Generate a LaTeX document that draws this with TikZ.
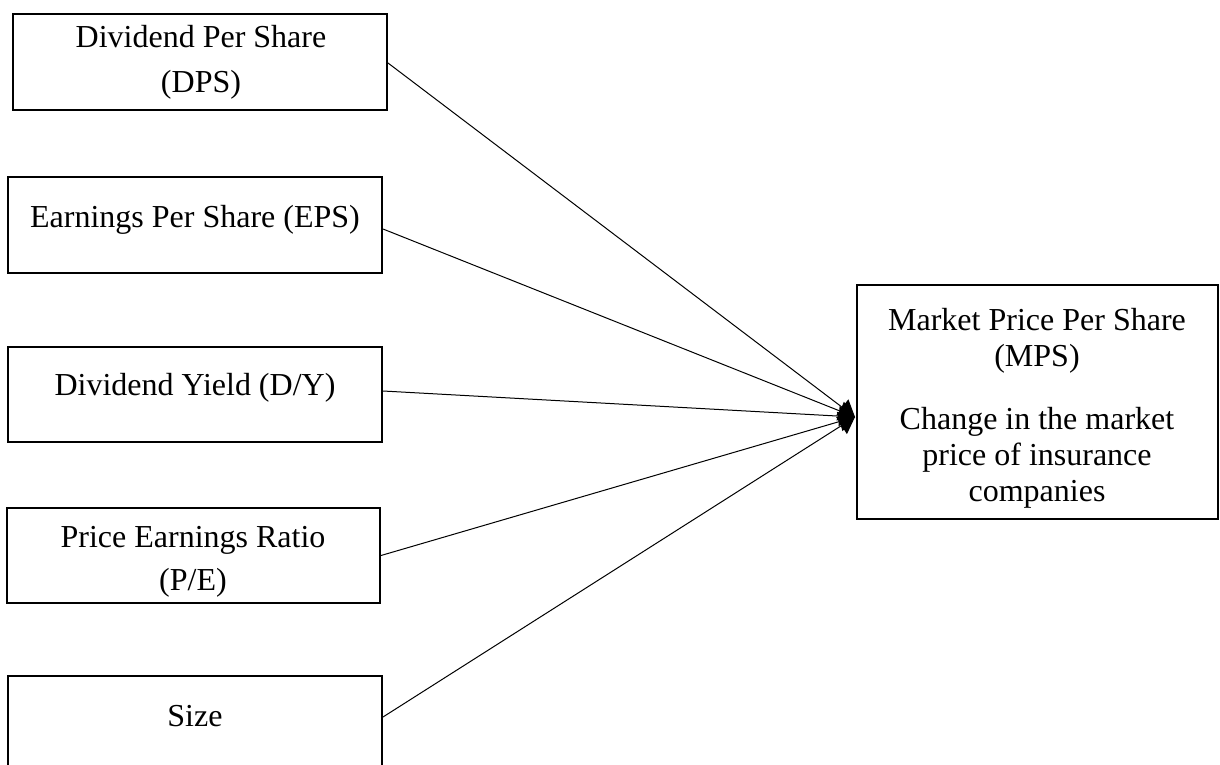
\documentclass[tikz,border=0pt]{standalone}
\usepackage{fontspec}
\setmainfont{Liberation Serif}
\usetikzlibrary{arrows.meta}
\begin{document}
\begin{tikzpicture}[x=0.5pt,y=-0.5pt,
  box/.style={draw, line width=1pt, rectangle, inner sep=0pt, anchor=center},
  lbl/.style={align=center, inner sep=0pt, font=\fontsize{16pt}{18pt}\selectfont},
  link/.style={line width=0.5pt, -{Triangle[length=8pt,width=10pt]}}]
\useasboundingbox (0,0) rectangle (1220,765);

% determinant boxes
\node[box, minimum width=187pt, minimum height=48pt] (dps) at (200,62) {};
\node[box, minimum width=187pt, minimum height=48pt] (eps) at (195,225) {};
\node[box, minimum width=187pt, minimum height=47.5pt] (dy) at (195,394.5) {};
\node[box, minimum width=186.5pt, minimum height=47.5pt] (pe) at (193.5,555.5) {};
\node[box, minimum width=187pt, minimum height=47.5pt] (size) at (195,723.5) {};

% outcome box
\node[box, minimum width=180.5pt, minimum height=117pt] (mps) at (1037.5,402) {};

% box texts
\node[lbl] (dpsT) at (201,62) {Dividend Per Share\\[4.5pt](DPS)};
\node[lbl] (epsT) at (195,220) {Earnings Per Share (EPS)};
\node[lbl] (dyT) at (195,388) {Dividend Yield (D/Y)};
\node[lbl] (peT) at (193,562) {Price Earnings Ratio\\[3.5pt](P/E)};
\node[lbl] (sizeT) at (195,716) {Size};
\node[lbl] (mpsT) at (1037,408) {Market Price Per Share\\(MPS)\\[13.5pt]Change in the market\\price of insurance\\companies};

% converging links
\coordinate (tip) at (855,417);
\draw[link] ([yshift=-0.5pt]dps.east) -- (tip);
\draw[link] ([yshift=-2pt]eps.east) -- (tip);
\draw[link] ([yshift=1.75pt]dy.east) -- (tip);
\draw[link] (pe.east) -- (tip);
\draw[link] ([yshift=3.25pt]size.east) -- (tip);
\end{tikzpicture}
\end{document}
